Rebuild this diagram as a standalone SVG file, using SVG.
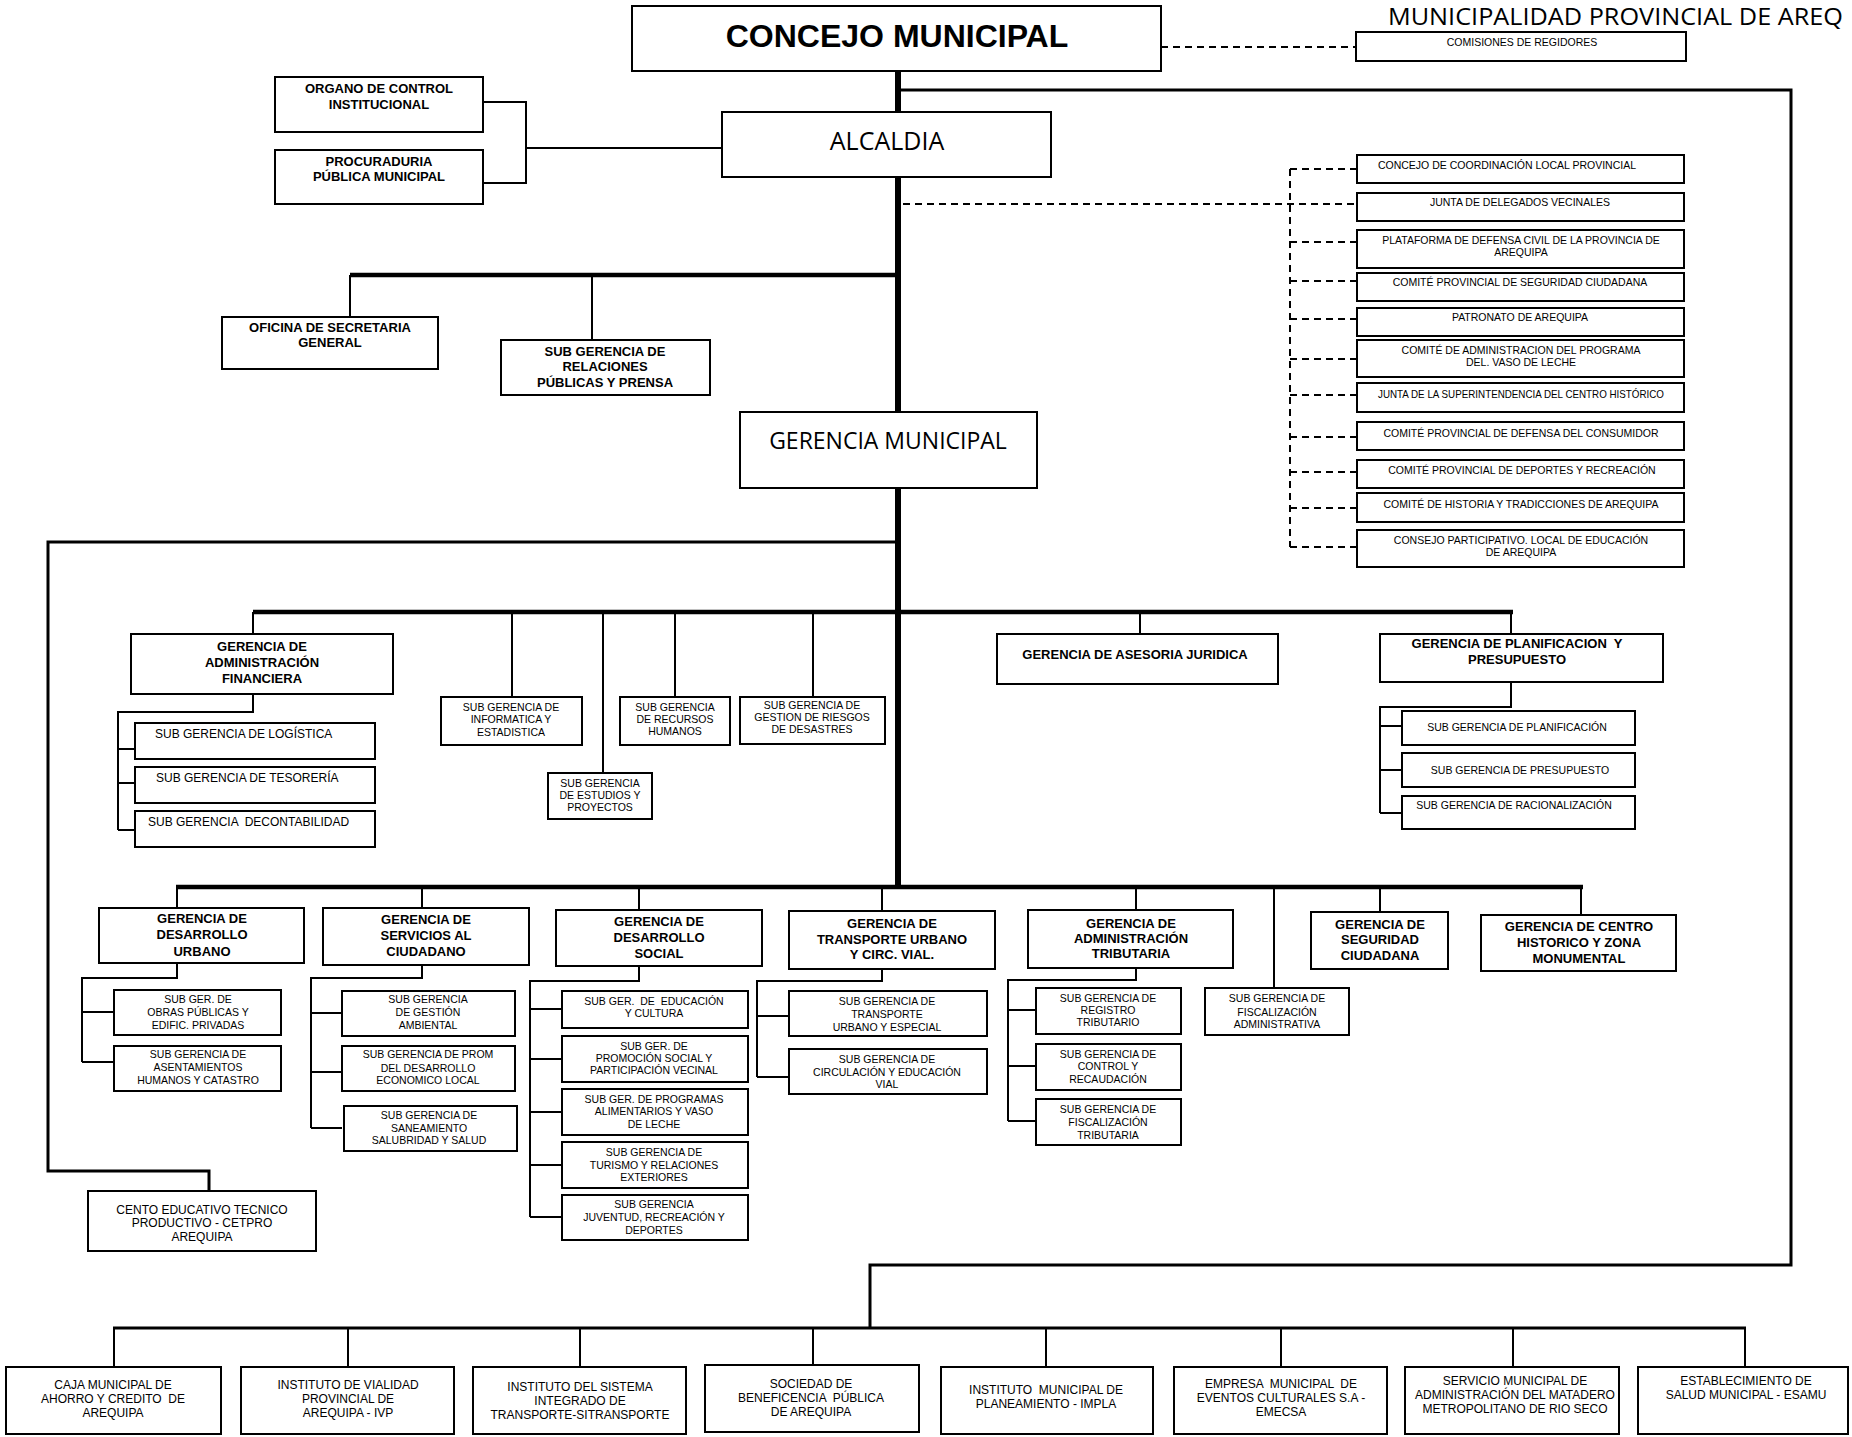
<svg xmlns="http://www.w3.org/2000/svg" width="1852" height="1437" viewBox="0 0 1852 1437">
<style>
.b{fill:#fff;stroke:#000;stroke-width:2}
text{font-family:"Liberation Sans",Arial,sans-serif;fill:#000;text-anchor:middle}
.s{font-size:10.5px}
.g{font-size:12px}
.h{font-size:13px;font-weight:bold}
.o{font-family:"Open Sans","Noto Sans",sans-serif}
.c{fill:none;stroke:#000;stroke-width:2}
.m{fill:none;stroke:#000;stroke-width:3}
.w{fill:none;stroke:#000;stroke-width:4.5}
.k{fill:none;stroke:#000;stroke-width:6}
.d{fill:none;stroke:#000;stroke-width:2;stroke-dasharray:7 5}
</style>
<rect width="1852" height="1437" fill="#fff"/>
<text class="o" x="1388" y="25" font-size="23" textLength="455" lengthAdjust="spacingAndGlyphs" style="text-anchor:start">MUNICIPALIDAD PROVINCIAL DE AREQ</text>

<g id="connectors">
<path class="k" d="M898,71 V887"/>
<path class="w" d="M350,275 H900 M253,612 H1513 M176,887 H1583"/>
<path class="m" d="M898,90 H1791 V1265 H870 V1328 M113,1328 H1746 M898,542 H48 V1171 H209 V1191"/>
<path class="c" d="M483,102 H526 V183 H483 M526,148 H722"/>
<path class="d" d="M1161,47 H1356 M903,204 H1357 M1290,169 V547"/>
<path class="d" d="M1290,169 H1357 M1290,242 H1357 M1290,281 H1357 M1290,319 H1357 M1290,359 H1357 M1290,395 H1357 M1290,437 H1357 M1290,472 H1357 M1290,508 H1357 M1290,547 H1357"/>
<path class="c" d="M350,275 V317 M592,275 V340"/>
<path class="c" d="M253,612 V634 M512,612 V697 M603,612 V773 M675,612 V697 M813,612 V697 M1140,612 V634 M1511,612 V634"/>
<path class="c" d="M253,694 V712 H118 V830 M118,749 H135 M118,783 H135 M118,830 H135"/>
<path class="c" d="M1511,683 V707 H1380 V813 M1380,726 H1402 M1380,770 H1402 M1380,813 H1402"/>
<path class="c" d="M177,887 V908 M422,887 V908 M639,887 V910 M882,887 V911 M1136,887 V910 M1274,887 V988 M1380,887 V912 M1581,887 V915"/>
<path class="c" d="M177,963 V978 H82 V1062 M82,1012 H114 M82,1062 H114"/>
<path class="c" d="M422,965 V978 H311 V1128 M311,1013 H342 M311,1072 H342 M311,1128 H342"/>
<path class="c" d="M639,966 V981 H530 V1217 M530,1009 H563 M530,1059 H563 M530,1112 H563 M530,1165 H563 M530,1217 H563"/>
<path class="c" d="M882,969 V981 H757 V1077 M757,1016 H789 M757,1077 H789"/>
<path class="c" d="M1136,968 V980 H1008 V1121 M1008,1010 H1036 M1008,1066 H1036 M1008,1121 H1036"/>
<path class="c" d="M114,1328 V1367 M348,1328 V1367 M580,1328 V1367 M813,1328 V1365 M1046,1328 V1367 M1281,1328 V1367 M1513,1328 V1367 M1745,1328 V1367"/>
</g>

<g id="concejo"><rect class="b" x="632" y="6" width="529" height="65"/><text x="897" y="47" font-size="32" font-weight="bold">CONCEJO MUNICIPAL</text></g>
<g id="comisiones"><rect class="b" x="1356" y="32" width="330" height="29"/><text class="s" x="1522" y="46">COMISIONES DE REGIDORES</text></g>
<g id="organo"><rect class="b" x="275" y="77" width="208" height="55"/><text class="h"><tspan x="379" y="93">ORGANO DE CONTROL</tspan><tspan x="379" y="109">INSTITUCIONAL</tspan></text></g>
<g id="procuraduria"><rect class="b" x="275" y="150" width="208" height="54"/><text class="h"><tspan x="379" y="166">PROCURADURIA</tspan><tspan x="379" y="181">PÚBLICA MUNICIPAL</tspan></text></g>
<g id="alcaldia"><rect class="b" x="722" y="112" width="329" height="65"/><text class="o" x="887" y="150" font-size="25">ALCALDIA</text></g>
<g id="secretaria"><rect class="b" x="222" y="317" width="216" height="52"/><text class="h"><tspan x="330" y="332">OFICINA DE SECRETARIA</tspan><tspan x="330" y="347">GENERAL</tspan></text></g>
<g id="relaciones"><rect class="b" x="501" y="340" width="209" height="55"/><text class="h"><tspan x="605" y="356">SUB GERENCIA DE</tspan><tspan x="605" y="371">RELACIONES</tspan><tspan x="605" y="387">PÚBLICAS Y PRENSA</tspan></text></g>
<g id="gerencia-municipal"><rect class="b" x="740" y="412" width="297" height="76"/><text class="o" x="888" y="449" font-size="23">GERENCIA MUNICIPAL</text></g>

<g id="r1"><rect class="b" x="1357" y="155" width="327" height="28"/><text class="s" x="1507" y="169">CONCEJO DE COORDINACIÓN LOCAL PROVINCIAL</text></g>
<g id="r2"><rect class="b" x="1357" y="193" width="327" height="28"/><text class="s" x="1520" y="206">JUNTA DE DELEGADOS VECINALES</text></g>
<g id="r3"><rect class="b" x="1357" y="230" width="327" height="38"/><text class="s"><tspan x="1521" y="244">PLATAFORMA DE DEFENSA CIVIL DE LA PROVINCIA DE</tspan><tspan x="1521" y="256">AREQUIPA</tspan></text></g>
<g id="r4"><rect class="b" x="1357" y="273" width="327" height="28"/><text class="s" x="1520" y="286">COMITÉ PROVINCIAL DE SEGURIDAD CIUDADANA</text></g>
<g id="r5"><rect class="b" x="1357" y="308" width="327" height="28"/><text class="s" x="1520" y="321">PATRONATO DE AREQUIPA</text></g>
<g id="r6"><rect class="b" x="1357" y="340" width="327" height="37"/><text class="s"><tspan x="1521" y="354">COMITÉ DE ADMINISTRACION DEL PROGRAMA</tspan><tspan x="1521" y="366">DEL. VASO DE LECHE</tspan></text></g>
<g id="r7"><rect class="b" x="1357" y="383" width="327" height="29"/><text class="s" x="1521" y="398" textLength="286" lengthAdjust="spacingAndGlyphs">JUNTA DE LA SUPERINTENDENCIA DEL CENTRO HISTÓRICO</text></g>
<g id="r8"><rect class="b" x="1357" y="422" width="327" height="28"/><text class="s" x="1521" y="437">COMITÉ PROVINCIAL DE DEFENSA DEL CONSUMIDOR</text></g>
<g id="r9"><rect class="b" x="1357" y="460" width="327" height="28"/><text class="s" x="1522" y="474">COMITÉ PROVINCIAL DE DEPORTES Y RECREACIÓN</text></g>
<g id="r10"><rect class="b" x="1357" y="493" width="327" height="29"/><text class="s" x="1521" y="508">COMITÉ DE HISTORIA Y TRADICCIONES DE AREQUIPA</text></g>
<g id="r11"><rect class="b" x="1357" y="530" width="327" height="37"/><text class="s"><tspan x="1521" y="544">CONSEJO PARTICIPATIVO. LOCAL DE EDUCACIÓN</tspan><tspan x="1521" y="556">DE AREQUIPA</tspan></text></g>

<g id="gaf"><rect class="b" x="131" y="634" width="262" height="60"/><text class="h"><tspan x="262" y="651">GERENCIA DE</tspan><tspan x="262" y="667">ADMINISTRACIÓN</tspan><tspan x="262" y="683">FINANCIERA</tspan></text></g>
<g id="logistica"><rect class="b" x="135" y="723" width="240" height="36"/><text class="g" x="155" y="738" style="text-anchor:start">SUB GERENCIA DE LOGÍSTICA</text></g>
<g id="tesoreria"><rect class="b" x="135" y="767" width="240" height="36"/><text class="g" x="156" y="782" style="text-anchor:start">SUB GERENCIA DE TESORERÍA</text></g>
<g id="contabilidad"><rect class="b" x="135" y="811" width="240" height="36"/><text class="g" x="148" y="826" style="text-anchor:start" xml:space="preserve">SUB GERENCIA  DECONTABILIDAD</text></g>
<g id="informatica"><rect class="b" x="441" y="697" width="141" height="48"/><text class="s"><tspan x="511" y="711">SUB GERENCIA DE</tspan><tspan x="511" y="723">INFORMATICA Y</tspan><tspan x="511" y="736">ESTADISTICA</tspan></text></g>
<g id="estudios"><rect class="b" x="548" y="773" width="104" height="46"/><text class="s"><tspan x="600" y="787">SUB GERENCIA</tspan><tspan x="600" y="799">DE ESTUDIOS Y</tspan><tspan x="600" y="811">PROYECTOS</tspan></text></g>
<g id="rrhh"><rect class="b" x="620" y="697" width="110" height="48"/><text class="s"><tspan x="675" y="711">SUB GERENCIA</tspan><tspan x="675" y="723">DE RECURSOS</tspan><tspan x="675" y="735">HUMANOS</tspan></text></g>
<g id="riesgos"><rect class="b" x="740" y="697" width="145" height="47"/><text class="s"><tspan x="812" y="709">SUB GERENCIA DE</tspan><tspan x="812" y="721">GESTION DE RIESGOS</tspan><tspan x="812" y="733">DE DESASTRES</tspan></text></g>
<g id="asesoria"><rect class="b" x="997" y="634" width="281" height="50"/><text class="h" x="1135" y="659">GERENCIA DE ASESORIA JURIDICA</text></g>
<g id="gpp"><rect class="b" x="1380" y="634" width="283" height="48"/><text class="h" xml:space="preserve"><tspan x="1517" y="648">GERENCIA DE PLANIFICACION  Y</tspan><tspan x="1517" y="664">PRESUPUESTO</tspan></text></g>
<g id="planificacion"><rect class="b" x="1402" y="711" width="233" height="34"/><text class="s" x="1517" y="731">SUB GERENCIA DE PLANIFICACIÓN</text></g>
<g id="presupuesto"><rect class="b" x="1402" y="753" width="233" height="34"/><text class="s" x="1520" y="774">SUB GERENCIA DE PRESUPUESTO</text></g>
<g id="racionalizacion"><rect class="b" x="1402" y="796" width="233" height="33"/><text class="s" x="1514" y="809">SUB GERENCIA DE RACIONALIZACIÓN</text></g>

<g id="gdu"><rect class="b" x="99" y="908" width="205" height="55"/><text class="h"><tspan x="202" y="923">GERENCIA DE</tspan><tspan x="202" y="939">DESARROLLO</tspan><tspan x="202" y="956">URBANO</tspan></text></g>
<g id="obras"><rect class="b" x="114" y="990" width="167" height="45"/><text class="s"><tspan x="198" y="1003">SUB GER. DE</tspan><tspan x="198" y="1016">OBRAS PÚBLICAS Y</tspan><tspan x="198" y="1029">EDIFIC. PRIVADAS</tspan></text></g>
<g id="asentamientos"><rect class="b" x="114" y="1046" width="167" height="45"/><text class="s"><tspan x="198" y="1058">SUB GERENCIA DE</tspan><tspan x="198" y="1071">ASENTAMIENTOS</tspan><tspan x="198" y="1084">HUMANOS Y CATASTRO</tspan></text></g>
<g id="gsc"><rect class="b" x="323" y="908" width="206" height="57"/><text class="h"><tspan x="426" y="924">GERENCIA DE</tspan><tspan x="426" y="940">SERVICIOS AL</tspan><tspan x="426" y="956">CIUDADANO</tspan></text></g>
<g id="ambiental"><rect class="b" x="342" y="991" width="173" height="45"/><text class="s"><tspan x="428" y="1003">SUB GERENCIA</tspan><tspan x="428" y="1016">DE GESTIÓN</tspan><tspan x="428" y="1029">AMBIENTAL</tspan></text></g>
<g id="economico"><rect class="b" x="342" y="1046" width="173" height="45"/><text class="s"><tspan x="428" y="1058">SUB GERENCIA DE PROM</tspan><tspan x="428" y="1072">DEL DESARROLLO</tspan><tspan x="428" y="1084">ECONOMICO LOCAL</tspan></text></g>
<g id="saneamiento"><rect class="b" x="344" y="1106" width="173" height="45"/><text class="s"><tspan x="429" y="1119">SUB GERENCIA DE</tspan><tspan x="429" y="1132">SANEAMIENTO</tspan><tspan x="429" y="1144">SALUBRIDAD Y SALUD</tspan></text></g>
<g id="gds"><rect class="b" x="556" y="910" width="206" height="56"/><text class="h"><tspan x="659" y="926">GERENCIA DE</tspan><tspan x="659" y="942">DESARROLLO</tspan><tspan x="659" y="958">SOCIAL</tspan></text></g>
<g id="educacion"><rect class="b" x="562" y="991" width="186" height="37"/><text class="s" xml:space="preserve"><tspan x="654" y="1005">SUB GER.  DE  EDUCACIÓN</tspan><tspan x="654" y="1017">Y CULTURA</tspan></text></g>
<g id="promocion"><rect class="b" x="562" y="1036" width="186" height="46"/><text class="s"><tspan x="654" y="1050">SUB GER. DE</tspan><tspan x="654" y="1062">PROMOCIÓN SOCIAL Y</tspan><tspan x="654" y="1074">PARTICIPACIÓN VECINAL</tspan></text></g>
<g id="programas"><rect class="b" x="562" y="1089" width="186" height="46"/><text class="s"><tspan x="654" y="1103">SUB GER. DE PROGRAMAS</tspan><tspan x="654" y="1115">ALIMENTARIOS Y VASO</tspan><tspan x="654" y="1128">DE LECHE</tspan></text></g>
<g id="turismo"><rect class="b" x="562" y="1142" width="186" height="46"/><text class="s"><tspan x="654" y="1156">SUB GERENCIA DE</tspan><tspan x="654" y="1169">TURISMO Y RELACIONES</tspan><tspan x="654" y="1181">EXTERIORES</tspan></text></g>
<g id="juventud"><rect class="b" x="562" y="1195" width="186" height="45"/><text class="s"><tspan x="654" y="1208">SUB GERENCIA</tspan><tspan x="654" y="1221">JUVENTUD, RECREACIÓN Y</tspan><tspan x="654" y="1234">DEPORTES</tspan></text></g>
<g id="gtu"><rect class="b" x="789" y="911" width="206" height="58"/><text class="h"><tspan x="892" y="928">GERENCIA DE</tspan><tspan x="892" y="944">TRANSPORTE URBANO</tspan><tspan x="892" y="959">Y CIRC. VIAL.</tspan></text></g>
<g id="transporte"><rect class="b" x="789" y="991" width="198" height="45"/><text class="s"><tspan x="887" y="1005">SUB GERENCIA DE</tspan><tspan x="887" y="1018">TRANSPORTE</tspan><tspan x="887" y="1031">URBANO Y ESPECIAL</tspan></text></g>
<g id="circulacion"><rect class="b" x="789" y="1049" width="198" height="45"/><text class="s"><tspan x="887" y="1063">SUB GERENCIA DE</tspan><tspan x="887" y="1076">CIRCULACIÓN Y EDUCACIÓN</tspan><tspan x="887" y="1088">VIAL</tspan></text></g>
<g id="gat"><rect class="b" x="1028" y="910" width="205" height="58"/><text class="h"><tspan x="1131" y="928">GERENCIA DE</tspan><tspan x="1131" y="943">ADMINISTRACIÓN</tspan><tspan x="1131" y="958">TRIBUTARIA</tspan></text></g>
<g id="registro"><rect class="b" x="1036" y="988" width="145" height="46"/><text class="s"><tspan x="1108" y="1002">SUB GERENCIA DE</tspan><tspan x="1108" y="1014">REGISTRO</tspan><tspan x="1108" y="1026">TRIBUTARIO</tspan></text></g>
<g id="recaudacion"><rect class="b" x="1036" y="1044" width="145" height="46"/><text class="s"><tspan x="1108" y="1058">SUB GERENCIA DE</tspan><tspan x="1108" y="1070">CONTROL Y</tspan><tspan x="1108" y="1083">RECAUDACIÓN</tspan></text></g>
<g id="fisc-tributaria"><rect class="b" x="1036" y="1099" width="145" height="46"/><text class="s"><tspan x="1108" y="1113">SUB GERENCIA DE</tspan><tspan x="1108" y="1126">FISCALIZACIÓN</tspan><tspan x="1108" y="1139">TRIBUTARIA</tspan></text></g>
<g id="fisc-adm"><rect class="b" x="1205" y="988" width="144" height="47"/><text class="s"><tspan x="1277" y="1002">SUB GERENCIA DE</tspan><tspan x="1277" y="1016">FISCALIZACIÓN</tspan><tspan x="1277" y="1028">ADMINISTRATIVA</tspan></text></g>
<g id="gseg"><rect class="b" x="1311" y="912" width="137" height="57"/><text class="h"><tspan x="1380" y="929">GERENCIA DE</tspan><tspan x="1380" y="944">SEGURIDAD</tspan><tspan x="1380" y="960">CIUDADANA</tspan></text></g>
<g id="gch"><rect class="b" x="1481" y="915" width="195" height="56"/><text class="h"><tspan x="1579" y="931">GERENCIA DE CENTRO</tspan><tspan x="1579" y="947">HISTORICO Y ZONA</tspan><tspan x="1579" y="963">MONUMENTAL</tspan></text></g>
<g id="cetpro"><rect class="b" x="88" y="1191" width="228" height="60"/><text class="g"><tspan x="202" y="1214">CENTO EDUCATIVO TECNICO</tspan><tspan x="202" y="1227">PRODUCTIVO - CETPRO</tspan><tspan x="202" y="1241">AREQUIPA</tspan></text></g>

<g id="caja"><rect class="b" x="6" y="1367" width="215" height="67"/><text class="g" xml:space="preserve"><tspan x="113" y="1389">CAJA MUNICIPAL DE</tspan><tspan x="113" y="1403">AHORRO Y CREDITO  DE</tspan><tspan x="113" y="1417">AREQUIPA</tspan></text></g>
<g id="ivp"><rect class="b" x="241" y="1367" width="213" height="67"/><text class="g"><tspan x="348" y="1389">INSTITUTO DE VIALIDAD</tspan><tspan x="348" y="1403">PROVINCIAL DE</tspan><tspan x="348" y="1417">AREQUIPA - IVP</tspan></text></g>
<g id="sitransporte"><rect class="b" x="473" y="1367" width="213" height="67"/><text class="g"><tspan x="580" y="1391">INSTITUTO DEL SISTEMA</tspan><tspan x="580" y="1405">INTEGRADO DE</tspan><tspan x="580" y="1419">TRANSPORTE-SITRANSPORTE</tspan></text></g>
<g id="beneficencia"><rect class="b" x="705" y="1365" width="214" height="67"/><text class="g" xml:space="preserve"><tspan x="811" y="1388">SOCIEDAD DE</tspan><tspan x="811" y="1402">BENEFICENCIA  PÚBLICA</tspan><tspan x="811" y="1416">DE AREQUIPA</tspan></text></g>
<g id="impla"><rect class="b" x="941" y="1367" width="212" height="67"/><text class="g" xml:space="preserve"><tspan x="1046" y="1394">INSTITUTO  MUNICIPAL DE</tspan><tspan x="1046" y="1408">PLANEAMIENTO - IMPLA</tspan></text></g>
<g id="emecsa"><rect class="b" x="1174" y="1367" width="213" height="67"/><text class="g" xml:space="preserve"><tspan x="1281" y="1388">EMPRESA  MUNICIPAL  DE</tspan><tspan x="1281" y="1402">EVENTOS CULTURALES S.A -</tspan><tspan x="1281" y="1416">EMECSA</tspan></text></g>
<g id="matadero"><rect class="b" x="1405" y="1367" width="214" height="67"/><text class="g"><tspan x="1515" y="1385">SERVICIO MUNICIPAL DE</tspan><tspan x="1515" y="1399">ADMINISTRACIÓN DEL MATADERO</tspan><tspan x="1515" y="1413">METROPOLITANO DE RIO SECO</tspan></text></g>
<g id="esamu"><rect class="b" x="1638" y="1367" width="210" height="67"/><text class="g"><tspan x="1746" y="1385">ESTABLECIMIENTO DE</tspan><tspan x="1746" y="1399">SALUD MUNICIPAL - ESAMU</tspan></text></g>
</svg>
